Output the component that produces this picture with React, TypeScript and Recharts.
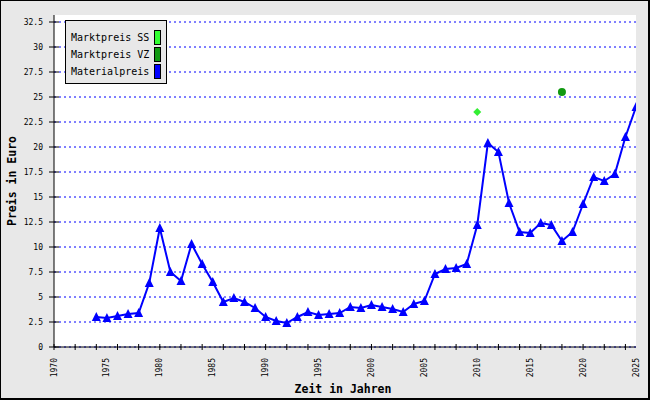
import { ComposedChart, Line, Scatter, XAxis, YAxis, CartesianGrid, Legend, Label } from "recharts";

const years = [
  1974, 1975, 1976, 1977, 1978, 1979, 1980, 1981, 1982, 1983, 1984, 1985, 1986,
  1987, 1988, 1989, 1990, 1991, 1992, 1993, 1994, 1995, 1996, 1997, 1998, 1999,
  2000, 2001, 2002, 2003, 2004, 2005, 2006, 2007, 2008, 2009, 2010, 2011, 2012,
  2013, 2014, 2015, 2016, 2017, 2018, 2019, 2020, 2021, 2022, 2023, 2024, 2025,
];
const materialpreis = [
  3.0, 2.9, 3.1, 3.3, 3.4, 6.4, 11.9, 7.5, 6.6, 10.3, 8.3, 6.5, 4.5,
  4.9, 4.5, 3.9, 3.0, 2.6, 2.4, 3.0, 3.5, 3.2, 3.3, 3.4, 4.0, 3.9,
  4.2, 4.0, 3.8, 3.5, 4.3, 4.6, 7.3, 7.8, 7.9, 8.3, 12.2, 20.4, 19.5,
  14.4, 11.5, 11.4, 12.4, 12.2, 10.6, 11.5, 14.3, 17.0, 16.6, 17.3, 21.0, 24.0,
];
const marktpreisSS = [{ year: 2010, value: 23.5 }];
const marktpreisVZ = [{ year: 2018, value: 25.5 }];

const yTicks = [0, 2.5, 5, 7.5, 10, 12.5, 15, 17.5, 20, 22.5, 25, 27.5, 30, 32.5];
const xLabelYears = [1970, 1975, 1980, 1985, 1990, 1995, 2000, 2005, 2010, 2015, 2020, 2025];
const xTickMarkYears = [
  1970, 1972, 1974, 1976, 1978, 1980, 1982, 1984, 1986, 1988, 1990, 1992, 1994, 1996,
  1998, 2000, 2002, 2004, 2006, 2008, 2010, 2012, 2014, 2016, 2018, 2020, 2022, 2024,
];

const SERIES = [
  { name: "Marktpreis SS", color: "#33ff33" },
  { name: "Marktpreis VZ", color: "#119911" },
  { name: "Materialpreis", color: "#0000ff" },
];

const FONT = "'DejaVu Sans Mono', monospace";
const BG = "#e8e8e8";

const data = years.map((year, i) => ({ year, material: materialpreis[i] }));
const xTicks = Array.from(new Set([...xTickMarkYears, ...xLabelYears])).sort((a, b) => a - b);

function XTick(props: any) {
  const { x, y, payload } = props;
  const v = payload.value;
  return (
    <g>
      {v % 2 === 0 && <line x1={x} x2={x} y1={y - 3} y2={y + 3} stroke="#000" />}
      {v % 5 === 0 && (
        <text
          x={x}
          y={y + 11}
          transform={`rotate(-90, ${x}, ${y + 11})`}
          textAnchor="end"
          dominantBaseline="central"
          fontFamily={FONT}
          fontSize={8}
          fill="#000"
        >
          {v}
        </text>
      )}
    </g>
  );
}

function YTick(props: any) {
  const { x, y, payload } = props;
  return (
    <g>
      <line x1={x - 5} x2={x + 5} y1={y} y2={y} stroke="#000" />
      <text x={x - 11} y={y} textAnchor="end" dominantBaseline="central" fontFamily={FONT} fontSize={8} fill="#000">
        {payload.value}
      </text>
    </g>
  );
}

function Triangle(props: any) {
  const { cx, cy, index } = props;
  if (cx == null || cy == null) return <g key={index} />;
  return <polygon key={index} points={`${cx},${cy - 5} ${cx + 4.5},${cy + 4} ${cx - 4.5},${cy + 4}`} fill="#0000ff" />;
}

function Diamond(props: any) {
  const { cx, cy } = props;
  return <polygon points={`${cx},${cy - 4} ${cx + 4},${cy} ${cx},${cy + 4} ${cx - 4},${cy}`} fill="#33ee33" />;
}

function Dot(props: any) {
  const { cx, cy } = props;
  return <circle cx={cx} cy={cy} r={4} fill="#119911" />;
}

function LegendBox() {
  return (
    <div
      style={{
        width: 102,
        height: 64,
        background: BG,
        border: "1px solid #000",
        fontFamily: FONT,
        fontSize: 10,
        padding: "8px 5px 0 5px",
        boxSizing: "border-box",
      }}
    >
      {SERIES.map((s) => (
        <div key={s.name} style={{ display: "flex", alignItems: "center", justifyContent: "space-between", height: 17 }}>
          <span style={{ whiteSpace: "nowrap" }}>{s.name}</span>
          <span style={{ width: 5, height: 13, background: s.color, border: "1px solid #000", flexShrink: 0 }} />
        </div>
      ))}
    </div>
  );
}

export default function App() {
  return (
    <div style={{ position: "absolute", left: 0, top: 0, width: 650, height: 400, background: BG }}>
      <ComposedChart width={650} height={400} data={data} margin={{ top: 15, right: 14, bottom: 0, left: 0 }}>
        <CartesianGrid horizontal={false} vertical={false} fill="#ffffff" stroke="none" />
        <CartesianGrid vertical={false} syncWithTicks stroke="#0000ff" strokeDasharray="2 3" />
        <XAxis
          type="number"
          dataKey="year"
          domain={[1970, 2025]}
          ticks={xTicks}
          interval={0}
          tickLine={false}
          tickSize={0}
          tickMargin={0}
          height={53}
          stroke="#000"
          tick={<XTick />}
          allowDataOverflow
        >
          <Label
            content={({ viewBox }: any) => (
              <text
                x={viewBox.x + viewBox.width / 2 - 2}
                y={viewBox.y + 42}
                textAnchor="middle"
                dominantBaseline="central"
                fontFamily={FONT}
                fontWeight="bold"
                fontSize={11.5}
                fill="#000"
              >
                Zeit in Jahren
              </text>
            )}
          />
        </XAxis>
        <YAxis
          type="number"
          domain={[0, 33.2]}
          ticks={yTicks}
          interval={0}
          width={54}
          tickLine={false}
          tickSize={0}
          tickMargin={0}
          stroke="#000"
          tick={<YTick />}
          allowDataOverflow
        >
          <Label
            content={({ viewBox }: any) => {
              const cx = viewBox.x + 12;
              const cy = viewBox.y + viewBox.height / 2;
              return (
                <text
                  x={cx}
                  y={cy}
                  transform={`rotate(-90, ${cx}, ${cy})`}
                  textAnchor="middle"
                  dominantBaseline="central"
                  fontFamily={FONT}
                  fontWeight="bold"
                  fontSize={11.5}
                  fill="#000"
                >
                  Preis in Euro
                </text>
              );
            }}
          />
        </YAxis>
        <Legend
          layout="vertical"
          align="center"
          verticalAlign="middle"
          wrapperStyle={{ left: 65, top: 20, width: 102 }}
          content={() => <LegendBox />}
        />
        <Line
          type="linear"
          dataKey="material"
          name="Materialpreis"
          stroke="#0000ff"
          strokeWidth={2}
          dot={Triangle}
          activeDot={false}
          isAnimationActive={false}
        />
        <Scatter data={marktpreisSS} dataKey="value" name="Marktpreis SS" shape={Diamond} isAnimationActive={false} />
        <Scatter data={marktpreisVZ} dataKey="value" name="Marktpreis VZ" shape={Dot} isAnimationActive={false} />
      </ComposedChart>
      <div
        style={{
          position: "absolute",
          left: 0,
          top: 0,
          width: 650,
          height: 400,
          boxSizing: "border-box",
          borderStyle: "solid",
          borderColor: "#000",
          borderWidth: "1px 2px 2px 1px",
          pointerEvents: "none",
        }}
      />
    </div>
  );
}
